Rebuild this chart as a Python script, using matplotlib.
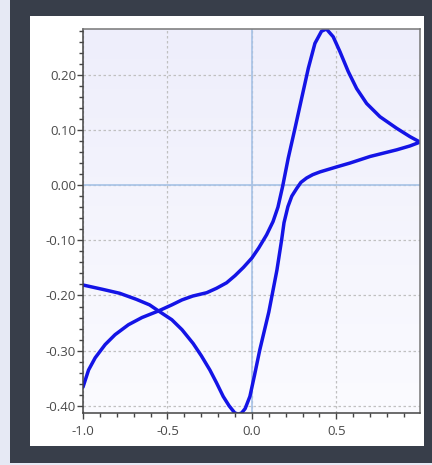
import numpy as np
import matplotlib.pyplot as plt
from matplotlib.patches import Rectangle
from matplotlib.ticker import MultipleLocator, FormatStrFormatter

plt.rcParams['font.family'] = ['Open Sans', 'DejaVu Sans']
plt.rcParams['axes.unicode_minus'] = False

# forward scan (left bottom -> oxidation peak -> right end)
fwd_x = [-1.0, -0.967, -0.928, -0.869, -0.81, -0.731, -0.651, -0.553, -0.474, -0.414, -0.35,
         -0.268, -0.21, -0.15, -0.10, -0.05, 0.0, 0.04, 0.087, 0.125, 0.154, 0.182,
         0.215, 0.255, 0.294, 0.334, 0.373, 0.412, 0.441, 0.481, 0.521, 0.57, 0.62,
         0.679, 0.758, 0.857, 0.935, 0.995]
fwd_y = [-0.366, -0.335, -0.313, -0.289, -0.271, -0.253, -0.240, -0.228, -0.217, -0.208, -0.201,
         -0.195, -0.187, -0.177, -0.164, -0.149, -0.132, -0.114, -0.090, -0.066, -0.040, -0.002,
         0.049, 0.103, 0.157, 0.212, 0.257, 0.279, 0.283, 0.269, 0.242, 0.206, 0.175,
         0.148, 0.124, 0.103, 0.088, 0.078]

# reverse scan (right end -> reduction minimum -> left)
rev_x = [0.995, 0.935, 0.857, 0.70, 0.58, 0.501, 0.403, 0.36, 0.324, 0.29, 0.265, 0.236,
         0.213, 0.19, 0.176, 0.148, 0.1, 0.047, 0.015, -0.012, -0.04, -0.061, -0.08, -0.101,
         -0.135, -0.17, -0.21, -0.249, -0.30, -0.348, -0.414, -0.474, -0.553, -0.606, -0.684,
         -0.783, -0.882, -1.0]
rev_y = [0.078, 0.071, 0.064, 0.052, 0.040, 0.033, 0.024, 0.019, 0.013, 0.005, -0.006, -0.020,
         -0.039, -0.068, -0.099, -0.154, -0.230, -0.298, -0.345, -0.383, -0.405, -0.413, -0.415, -0.413,
         -0.400, -0.383, -0.358, -0.335, -0.309, -0.287, -0.262, -0.244, -0.228, -0.217, -0.207,
         -0.196, -0.189, -0.181]

x_ticks = [-1.0, -0.5, 0.0, 0.5]
y_ticks = [-0.40, -0.30, -0.20, -0.10, 0.00, 0.10, 0.20]

fig = plt.figure(figsize=(4.32, 4.65), dpi=100)
fig.patch.set_facecolor('#e6e9f4')
W, H = 432, 465
fig.patches.append(Rectangle((10 / W, 1 - 463 / H), 422 / W, 463 / H, transform=fig.transFigure,
                             facecolor='#383e4a', edgecolor='none', zorder=-2))
fig.patches.append(Rectangle((30 / W, 1 - 446 / H), 394 / W, 430 / H, transform=fig.transFigure,
                             facecolor='white', edgecolor='none', zorder=-1))

ax = fig.add_axes([83 / W, 1 - 413 / H, 337 / W, 384 / H])
ax.set_xlim(-1.0, 0.995)
ax.set_ylim(-0.413, 0.283)

# soft vertical gradient background
grad = np.linspace(0, 1, 256).reshape(-1, 1)
c_top = np.array([0xee, 0xee, 0xfb]) / 255
c_bot = np.array([0xfb, 0xfb, 0xff]) / 255
img = c_bot + (c_top - c_bot) * grad
ax.imshow(img[:, None, :].repeat(2, axis=1), extent=[-1.0, 0.995, -0.413, 0.283],
          origin='lower', aspect='auto', zorder=0)

ax.grid(True, which='major', color='#c0c0c0', linestyle=(0, (2, 2)), linewidth=0.9, zorder=1)
ax.axhline(0, color='#a6c2e6', linewidth=1.2, zorder=2)
ax.axvline(0, color='#a6c2e6', linewidth=1.2, zorder=2)

ax.plot(fwd_x, fwd_y, color='#1414e6', linewidth=2.5, solid_joinstyle='round',
        solid_capstyle='round', zorder=3)
ax.plot(rev_x, rev_y, color='#1414e6', linewidth=2.5, solid_joinstyle='round',
        solid_capstyle='round', zorder=3)

ax.set_xticks(x_ticks)
ax.set_yticks(y_ticks)
ax.xaxis.set_minor_locator(MultipleLocator(0.1))
ax.yaxis.set_minor_locator(MultipleLocator(0.02))
ax.xaxis.set_major_formatter(FormatStrFormatter('%.1f'))
ax.yaxis.set_major_formatter(FormatStrFormatter('%.2f'))
ax.tick_params(which='both', direction='out', color='#444444', labelsize=9.5,
               labelcolor='#4a4a4a', width=1)
ax.tick_params(which='major', length=4.5, pad=0.5)
ax.tick_params(which='minor', length=2.7)
ax.tick_params(axis='x', which='major', pad=4)

for side in ['left', 'bottom']:
    ax.spines[side].set_color('#444444')
for side in ['top', 'right']:
    ax.spines[side].set_color('#777777')
for s in ax.spines.values():
    s.set_linewidth(1.1)
    s.set_zorder(4)

fig.savefig('out.png', dpi=100, facecolor=fig.get_facecolor())
